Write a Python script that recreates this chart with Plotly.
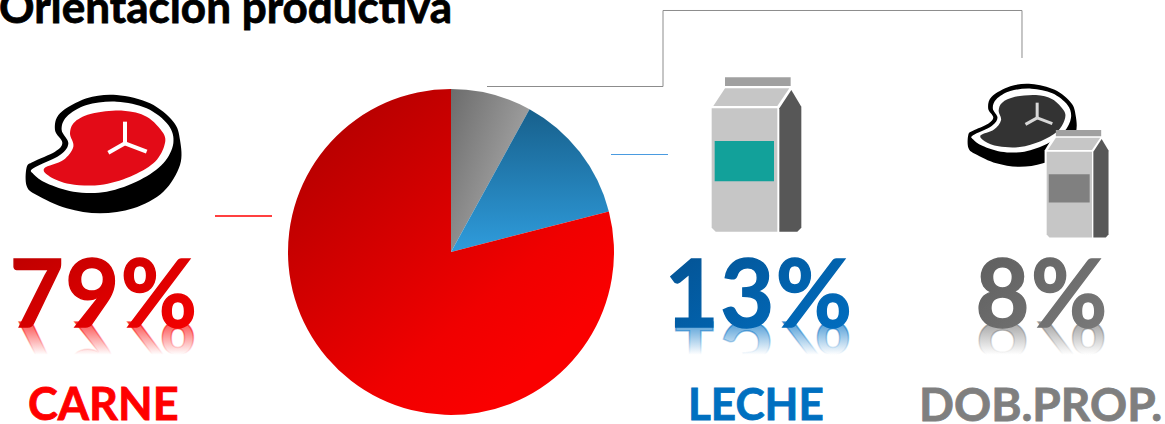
import plotly.graph_objects as go

W, H = 1165, 424

# --- data ---
categories = ["DOB.PROP.", "LECHE", "CARNE"]
values = [8, 13, 79]
percent_labels = ["8%", "13%", "79%"]
title_text = "Orientación productiva"

FONT = "Lato, Carlito, 'Open Sans', sans-serif"

def fx(x): return x / W
def fy(y): return 1 - y / H

def smooth(points, tf):
    pts = [tf(*p) for p in points]
    n = len(pts)
    d = f"M{fx(pts[0][0]):.5f},{fy(pts[0][1]):.5f}"
    for i in range(n):
        p0, p1, p2, p3 = pts[i - 1], pts[i], pts[(i + 1) % n], pts[(i + 2) % n]
        c1 = (p1[0] + (p2[0] - p0[0]) / 6, p1[1] + (p2[1] - p0[1]) / 6)
        c2 = (p2[0] - (p3[0] - p1[0]) / 6, p2[1] - (p3[1] - p1[1]) / 6)
        d += (f"C{fx(c1[0]):.5f},{fy(c1[1]):.5f} {fx(c2[0]):.5f},{fy(c2[1]):.5f} "
              f"{fx(p2[0]):.5f},{fy(p2[1]):.5f}")
    return d + "Z"

def poly(points, tf):
    pts = [tf(*p) for p in points]
    return "M" + "L".join(f"{fx(x):.5f},{fy(y):.5f}" for x, y in pts) + "Z"

def filled(path, color):
    return dict(type="path", path=path, xref="paper", yref="paper",
                fillcolor=color, line=dict(width=0), layer="above")

def stroked(path, color, width):
    return dict(type="path", path=path, xref="paper", yref="paper",
                fillcolor="rgba(0,0,0,0)", line=dict(color=color, width=width), layer="above")

def openline(points, color, width=1):
    path = "M" + "L".join(f"{fx(x):.5f},{fy(y):.5f}" for x, y in points)
    return stroked(path, color, width)

STEAK_OUT = [(80,262),(100,245),(165,215),(187,188),(165,150),(180,100),(260,55),(350,45),(450,70),
             (520,125),(540,180),(540,255),(490,335),(400,385),(300,400),(200,385),(110,345),(80,318)]
STEAK_WHITE = [(100,265),(180,225),(205,190),(185,150),(200,110),(260,75),(350,65),(440,85),(505,135),
               (520,190),(490,250),(420,300),(320,335),(220,335),(140,310),(100,282)]
STEAK_MEAT = [(133,265),(190,240),(220,200),(210,160),(225,125),(280,100),(370,92),(440,110),(490,160),
              (492,200),(460,250),(390,290),(300,315),(210,312),(150,290)]

def steak(tf, meat, bone_w):
    c = (375, 190)
    shapes = [filled(smooth(STEAK_OUT, tf), "#000000"),
              filled(smooth(STEAK_WHITE, tf), "#ffffff"),
              filled(smooth(STEAK_MEAT, tf), meat)]
    for end in [(375, 125), (325, 218), (440, 215)]:
        shapes.append(openline([tf(*c), tf(*end)], "#ffffff" if meat != "#333333" else "#d8d8d8", bone_w))
    return shapes

def carton(tf, label, halo=False):
    s = []
    if halo:
        s.append(filled(poly([(176,140),(215,76),(430,40),(464,135),(464,525),(176,525)], tf), "#ffffff"))
    s += [filled(poly([(225,52),(422,52),(422,78),(225,78)], tf), "#a0a0a0"),
          filled(poly([(190,138),(225,85),(418,85),(382,138)], tf), "#c6c6c6"),
          filled(poly([(185,145),(382,145),(382,515),(197,515),(185,503)], tf), "#c6c6c6"),
          filled(poly([(388,145),(424,90),(454,140),(454,503),(442,515),(388,515)], tf), "#575757"),
          filled(poly([(194,243),(372,243),(372,364),(194,364)], tf), label)]
    return s

tf_steak_red = lambda x, y: (x / 3, 80 + y / 3)
tf_steak_gray = lambda x, y: (910 + (175 + (x - 80) * 0.70) / 3, 60 + (72 + (y - 45) * 0.70) / 3)
tf_carton_blue = lambda x, y: (650 + x / 3, 60 + y / 3)
tf_carton_gray = lambda x, y: (910 + (410 + (x - 185) * 0.69) / 3, 60 + (275 + (y - 145) * 0.695) / 3)

shapes = []
shapes += steak(tf_steak_red, "#e30b17", 4)
shapes += steak(tf_steak_gray, "#333333", 3)
shapes += carton(tf_carton_blue, "#12a19a")
shapes += carton(tf_carton_gray, "#808080", halo=True)
shapes += [openline([(215, 216), (272, 216)], "#ff0000", 1.5),
           openline([(611, 154.5), (668, 154.5)], "#4a9be0"),
           openline([(487, 86.5), (663, 86.5), (663, 10.5), (1022, 10.5), (1022, 58)], "#8c8c8c")]

def ann(text, x, y, size, color, cls=None):
    return dict(text=f"<b>{text}</b>", x=fx(x), y=fy(y), xref="paper", yref="paper",
                xanchor="center", yanchor="middle", showarrow=False,
                font=dict(family=FONT, size=size, color=color))

annotations = [
    ann(title_text, 225, 6, 44, "#000000"),
    ann(percent_labels[2], 104, 291, 93, "#c80000"),
    ann(percent_labels[1], 758.5, 291, 93, "#0060b0"),
    ann(percent_labels[0], 1042, 291, 93, "#6a6a6a"),
    ann(categories[2], 103, 403, 45, "#ff0000"),
    ann(categories[1], 756, 403, 44, "#0070c0"),
    ann(categories[0], 1040.5, 403, 46, "#7f7f7f"),
]

cx, cy, r = 451, 252, 163
fig = go.Figure(go.Pie(
    labels=categories, values=values, sort=False, direction="clockwise", rotation=0,
    textinfo="none", hoverinfo="skip", showlegend=False,
    marker=dict(colors=["#8c8c8c", "#2380bd", "#e00000"], line=dict(width=0)),
    domain=dict(x=[fx(cx - r), fx(cx + r)], y=[fy(cy + r), fy(cy - r)]),
))
fig.update_layout(width=W, height=H, margin=dict(l=0, r=0, t=0, b=0),
                  paper_bgcolor="white", plot_bgcolor="white", showlegend=False,
                  shapes=shapes, annotations=annotations)

post = r"""
(function(){
 document.documentElement.style.margin='0';document.body.style.margin='0';document.body.style.overflow='hidden';
 var gd=document.getElementById('{plot_id}');
 var NS='http://www.w3.org/2000/svg';
 function grad(defs,id,x1,y1,x2,y2,stops,user){
  var g=document.createElementNS(NS,'linearGradient');g.setAttribute('id',id);
  g.setAttribute('x1',x1);g.setAttribute('y1',y1);g.setAttribute('x2',x2);g.setAttribute('y2',y2);
  if(user)g.setAttribute('gradientUnits','userSpaceOnUse');
  stops.forEach(function(s){var e=document.createElementNS(NS,'stop');e.setAttribute('offset',s[0]);
   e.setAttribute('stop-color',s[1]);e.setAttribute('stop-opacity',s[2]===undefined?1:s[2]);g.appendChild(e);});
  defs.appendChild(g);
 }
 function apply(){
  var svg=gd.querySelector('svg.main-svg');if(!svg||gd.querySelector('#gr-done'))return;
  var defs=document.createElementNS(NS,'defs');defs.setAttribute('id','gr-done');svg.insertBefore(defs,svg.firstChild);
  grad(defs,'g0',0,0,1,0.75,[[0,'#6c6c6c'],[1,'#b0b0b0']]);
  grad(defs,'g1',0,0,0,1,[[0,'#17608c'],[1,'#2f9cdc']]);
  grad(defs,'g2',0.1,0.1,0.75,0.85,[[0,'#b40000'],[0.75,'#f00000'],[1,'#fa0000']]);
  var slices=gd.querySelectorAll('.slice path.surface');
  slices.forEach(function(p,i){p.style.fill='url(#g'+i+')';});
  var spec={'79%':['#b80000','#fa0000'],'13%':['#04508f','#0070c4'],'8%':['#5c5c5c','#7c7c7c']};
  gd.querySelectorAll('.annotation-text').forEach(function(t,i){
   var s=spec[t.textContent];
   if(!s){
     t.style.stroke=t.style.fill;t.style.strokeWidth='0.8px';
     return;
   }
   t.style.letterSpacing='1.5px';
   var id='tx'+i;grad(defs,id,0,0,1,1,[[0,s[0]],[1,s[1]]]);
   var b=t.getBBox();
   var glyphBase=b.y+b.height*0.792;
   var c=t.cloneNode(true);c.removeAttribute('data-unformatted');
   var rid='rf'+i;grad(defs,rid,0,glyphBase-29,0,glyphBase,[[0,s[1],0],[1,s[1],0.62]],true);
   c.style.fill='url(#'+rid+')';c.style.stroke='url(#'+rid+')';c.style.strokeWidth='1.4px';
   c.setAttribute('transform','translate(0,'+(2*glyphBase+2)+') scale(1,-1)');
   t.parentNode.insertBefore(c,t);
   t.style.fill='url(#'+id+')';t.style.stroke='url(#'+id+')';t.style.strokeWidth='1.4px';
  });
 }
 apply();
 setTimeout(apply,50);
})();
"""
fig.write_html("out.html", post_script=post, config=dict(displayModeBar=False, responsive=False))
